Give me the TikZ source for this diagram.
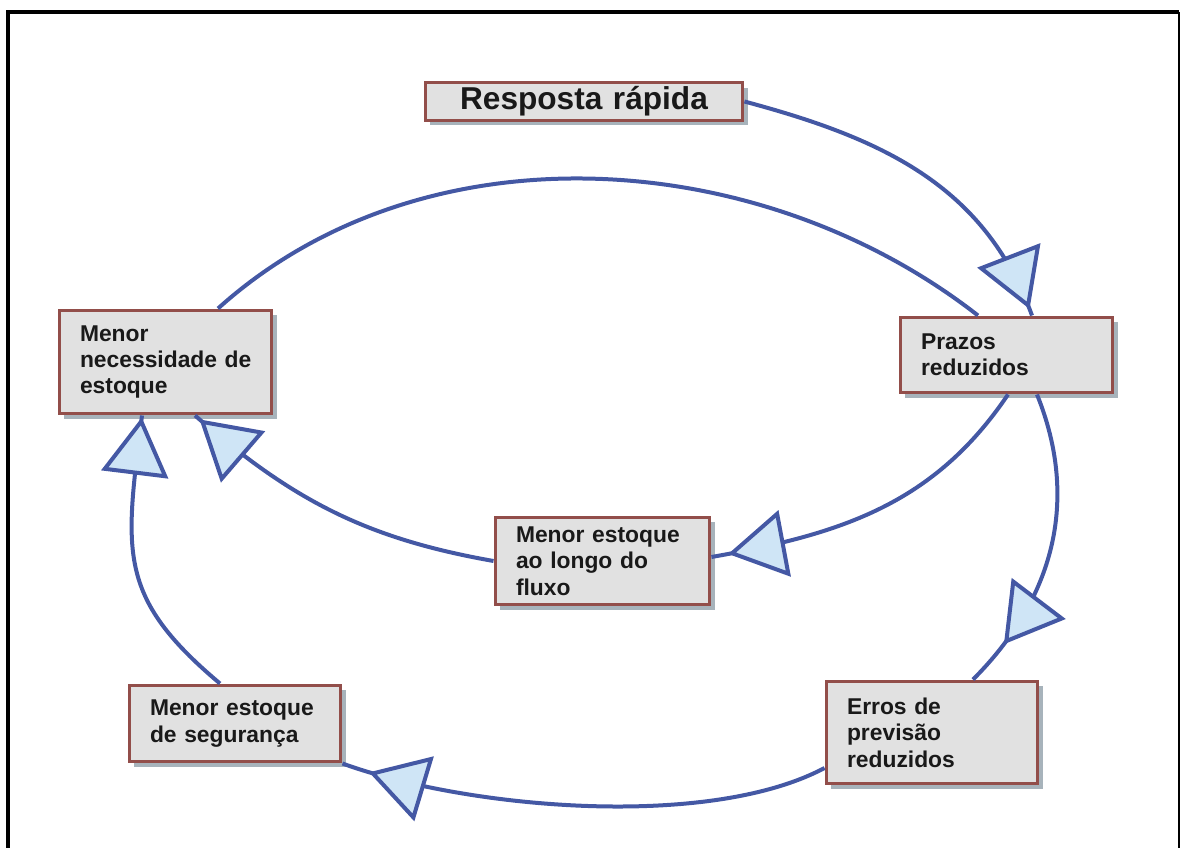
\documentclass[tikz,border=0pt]{standalone}
\usepackage{fontspec}
\setmainfont{Liberation Sans}
\usetikzlibrary{arrows.meta,decorations.markings,shadows}

\definecolor{flowblue}{HTML}{4458A4}
\definecolor{tipfill}{HTML}{CFE5F6}
\definecolor{boxline}{HTML}{924E4A}
\definecolor{boxfill}{HTML}{E1E1E1}
\definecolor{boxshadow}{HTML}{A7B3BB}

\tikzset{
  cause/.style={draw=boxline, fill=boxfill, line width=0.06cm, inner xsep=0.42cm, inner ysep=0pt,
    align=left, text=black!90, font=\bfseries\fontsize{13}{15}\selectfont,
    drop shadow={shadow xshift=0.1cm, shadow yshift=-0.1cm, fill=boxshadow, opacity=1}},
  flow/.style={draw=flowblue, line width=0.08cm},
  flowtip/.style={postaction={decorate}, decoration={markings,
    mark=at position #1 with {\arrow{Triangle[length=1.15cm, width=1.34cm, fill=tipfill, line join=miter]}}}}
}

\begin{document}
\begin{tikzpicture}[x=0.02cm, y=0.02cm]
            \useasboundingbox (0,0) rectangle (1181,-848);
            \draw[line width=0.08cm] (8,-848) -- (8,-12) -- (1179,-12);
            \draw[line width=0.04cm] (1179,-12) -- (1179,-848);

            \node[cause, text width=5.52cm, align=center, minimum height=0.76cm,
                  font=\bfseries\fontsize{18}{20}\selectfont] (resposta) at (584,-101.5) {Resposta rápida};
            \node[cause, text width=3.42cm, minimum height=1.52cm] (prazos) at (1006.5,-355) {Prazos\\reduzidos};
            \node[cause, text width=3.42cm, minimum height=2.08cm] (estoque) at (165.5,-362) {Menor\\\mbox{necessidade de}\\estoque};
            \node[cause, text width=3.46cm, minimum height=1.76cm] (fluxo) at (602.5,-561) {Menor estoque\\ao longo do\\fluxo};
            \node[cause, text width=3.40cm, minimum height=2.06cm] (erros) at (932,-732.5) {Erros de\\previsão\\reduzidos};
            \node[cause, text width=3.40cm, minimum height=1.54cm] (seguranca) at (235,-723.5) {Menor estoque\\de segurança};

            \draw[flow, flowtip=-0.14cm] (resposta.east) to[out=-15,in=110] ([xshift=0.51cm]prazos.north);
            \draw[flow] ([xshift=-0.57cm]prazos.north) to[out=142,in=42,looseness=0.93] ([xshift=1.05cm]estoque.north);
            \draw[flow, flowtip=-0.34cm] ([xshift=0.03cm]prazos.south) to[out=-124,in=10] ([yshift=0.08cm]fluxo.east);
            \draw[flow, flowtip=-0.12cm] (fluxo.west) to[out=170,in=-41] ([xshift=0.59cm]estoque.south);
            \draw[flow, flowtip=-0.94cm] ([xshift=0.61cm]prazos.south) to[out=-68,in=45] ([xshift=0.82cm]erros.north);
            \draw[flow, flowtip=-0.56cm] ([yshift=-0.71cm]erros.west) to[out=208,in=-20,looseness=0.7] (seguranca.south east);
            \draw[flow, flowtip=-0.04cm] ([xshift=-0.3cm]seguranca.north) to[out=140,in=-97,looseness=1.25] ([xshift=-0.47cm]estoque.south);
\end{tikzpicture}
\end{document}
